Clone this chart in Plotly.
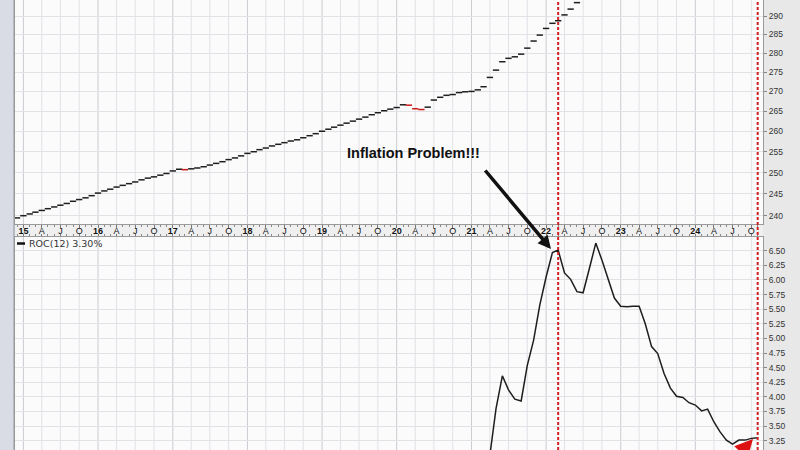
import math
import pandas as pd
import plotly.graph_objects as go

# ---------------- data ----------------
cpi_start = "2014-12-01"
cpi_values = [
    239.5,
    240.0, 240.4, 240.8, 241.2, 241.6, 242.0, 242.4, 242.8, 243.3, 243.7, 244.1, 244.6,  # 2015
    245.2, 245.7, 246.1, 246.6, 247.0, 247.4, 247.8, 248.3, 248.7, 249.0, 249.4, 249.8,  # 2016
    250.4, 250.8, 250.7, 250.9, 251.1, 251.4, 251.8, 252.2, 252.6, 253.1, 253.5, 254.0,  # 2017
    254.6, 255.0, 255.5, 255.9, 256.4, 256.8, 257.2, 257.6, 257.9, 258.4, 258.9, 259.4,  # 2018
    260.0, 260.5, 261.0, 261.5, 262.0, 262.5, 263.0, 263.5, 264.1, 264.6, 265.1, 265.5,  # 2019
    265.9, 266.6, 266.5, 265.6, 265.4, 266.0, 267.8, 268.5, 269.0, 269.2, 269.7, 269.9,  # 2020
    270.0, 270.4, 271.2, 273.6, 275.5, 277.7, 278.6, 279.0, 279.7, 281.3, 283.2, 284.8,  # 2021
    286.6, 288.0, 288.7, 290.3, 291.9, 293.7,                                            # 2022
]

roc_start = "2021-04-01"
roc_values = [
    3.00, 3.80, 4.36, 4.12, 3.96, 3.93, 4.54, 4.97, 5.57, 6.05, 6.47, 6.51,   # Apr21-Mar22
    6.12, 6.01, 5.80, 5.78, 6.20, 6.63, 6.34, 6.00, 5.69,                     # Apr22-Dec22
    5.55, 5.54, 5.55, 5.55, 5.25, 4.86, 4.74, 4.40, 4.15, 4.01, 3.99, 3.90,   # 2023
    3.86, 3.76, 3.79, 3.57, 3.40, 3.26, 3.19, 3.26, 3.26, 3.29, 3.30,         # 2024
]

quarter_ticks = pd.date_range("2015-01-01", "2024-10-01", freq="QS-JAN")
quarter_letters = {4: "A", 7: "J", 10: "O"}
cpi_ticks = [240, 245, 250, 255, 260, 265, 270, 275, 280, 285, 290, 295]
roc_ticks = [3.25, 3.50, 3.75, 4.00, 4.25, 4.50, 4.75, 5.00, 5.25, 5.50, 5.75, 6.00, 6.25, 6.50]
highlight_dates = ["2022-03-01", "2024-11-01"]
roc_label = "ROC(12) 3.30%"
note_text = "Inflation Problem!!!"

# ---------------- figure ----------------
W, H = 800, 450
L, R = 15, 37
PW = W - L - R


def px_x(p):
    return (p - L) / PW


def px_y(p):
    return 1 - p / H


dates_cpi = pd.date_range(cpi_start, periods=len(cpi_values), freq="MS")
dates_roc = pd.date_range(roc_start, periods=len(roc_values), freq="MS")
bar_colors = ["#cc1a1a" if i > 0 and v < cpi_values[i - 1] else "#1e1e1e"
              for i, v in enumerate(cpi_values)]

tick_text = []
for d in quarter_ticks:
    if d.month == 1:
        tick_text.append("<b>%02d</b>" % (d.year % 100))
    else:
        tick_text.append(quarter_letters[d.month])

fig = go.Figure()
fig.add_trace(go.Scatter(
    x=dates_cpi, y=cpi_values, mode="markers", xaxis="x", yaxis="y",
    marker=dict(symbol="line-ew", size=4.5, color=bar_colors,
                line=dict(width=1.5, color=bar_colors)),
    hoverinfo="skip"))
fig.add_trace(go.Scatter(
    x=dates_roc, y=roc_values, mode="lines", xaxis="x2", yaxis="y2",
    line=dict(color="#1e1e1e", width=1.5), hoverinfo="skip"))

grid_c = "#e2e2e6"
year_c = "#cbcbd0"
axis_line = "#9a9a9a"
tick_font = dict(family="Liberation Sans, Arial, sans-serif", size=8.5, color="#333333")

top_dom = [px_y(224), 1]
bot_dom = [0, px_y(236.5)]

xr = ["2014-11-21", "2024-11-27"]
common_x = dict(
    tickmode="array", tickvals=quarter_ticks, showgrid=False,
    showline=True, linecolor=axis_line, mirror=True, zeroline=False, automargin=False,
)
fig.update_layout(
    width=W, height=H,
    margin=dict(l=L, r=R, t=0, b=0, pad=0),
    paper_bgcolor="#e8e8e8", plot_bgcolor="#fbfbfc",
    showlegend=False,
    xaxis=dict(domain=[0, 1], anchor="y", range=xr, ticktext=tick_text,
               ticks="outside", ticklen=3, tickcolor="#777", ticklabelstandoff=-5,
               tickfont=dict(family="Liberation Sans, Arial, sans-serif", size=9, color="#111"),
               minor=dict(dtick="M1", tick0="2015-01-01", ticks="outside", ticklen=2,
                          tickcolor="#888", showgrid=False),
               **common_x),
    xaxis2=dict(domain=[0, 1], anchor="y2", matches="x", side="top",
                showticklabels=False, ticks="outside", ticklen=2, tickcolor="#777",
                minor=dict(dtick="M1", tick0="2015-01-01", ticks="outside", ticklen=2,
                           tickcolor="#888", showgrid=False),
                **common_x),
    yaxis=dict(domain=top_dom, anchor="x", side="right", type="log",
               range=[math.log10(238.12), math.log10(294.43)],
               tickmode="array", tickvals=cpi_ticks, ticks="outside", ticklen=3,
               tickcolor="#888", tickfont=tick_font, showgrid=True, gridcolor=grid_c,
               showline=True, linecolor=axis_line, mirror=True, zeroline=False,
               automargin=False),
    yaxis2=dict(domain=bot_dom, anchor="x2", side="right",
                range=[3.091, 6.743], tickmode="array", tickvals=roc_ticks,
                tickformat=".2f", ticks="outside", ticklen=3, tickcolor="#888",
                tickfont=tick_font, showgrid=True, gridcolor=grid_c,
                showline=True, linecolor=axis_line, mirror=True, zeroline=False,
                automargin=False),
)

shapes = []
# left frame strip
shapes.append(dict(type="rect", xref="paper", yref="paper", x0=px_x(0), x1=px_x(13),
                   y0=0, y1=1, fillcolor="#d9dce4", line=dict(width=0), layer="below"))
shapes.append(dict(type="rect", xref="paper", yref="paper", x0=px_x(13), x1=px_x(15),
                   y0=0, y1=1, fillcolor="#b4b8c2", line=dict(width=0), layer="below"))
# date band between panels
shapes.append(dict(type="rect", xref="paper", yref="paper", x0=0, x1=1,
                   y0=px_y(236.5), y1=px_y(224), fillcolor="#efefef",
                   line=dict(width=0), layer="below"))
# vertical grid lines (quarterly light, yearly darker)
for d in quarter_ticks:
    col = year_c if d.month == 1 else grid_c
    for xref, yref in (("x", "y domain"), ("x2", "y2 domain")):
        shapes.append(dict(type="line", xref=xref, yref=yref, x0=d, x1=d, y0=0, y1=1,
                           line=dict(color=col, width=1), layer="below"))
# red dashed markers
for d in highlight_dates:
    shapes.append(dict(type="line", xref="x", yref="paper", x0=d, x1=d, y0=0, y1=1,
                       line=dict(color="#d42020", width=2, dash="3px,2px"), layer="above"))
# ROC legend swatch
shapes.append(dict(type="line", xref="paper", yref="paper", x0=px_x(17), x1=px_x(25),
                   y0=px_y(243.5), y1=px_y(243.5), line=dict(color="#111", width=2.5),
                   layer="above"))
fig.update_layout(shapes=shapes)

annotations = [
    dict(xref="paper", yref="paper", x=px_x(27), y=px_y(243.5), xanchor="left",
         yanchor="middle", text=roc_label, showarrow=False,
         font=dict(family="DejaVu Sans, Verdana, sans-serif", size=9.5, color="#333")),
    dict(xref="paper", yref="paper", x=px_x(413), y=px_y(153), xanchor="center",
         yanchor="middle", text="<b>%s</b>" % note_text, showarrow=False,
         font=dict(family="Liberation Sans, Arial, sans-serif", size=14.5, color="#111")),
    dict(xref="paper", yref="paper", x=px_x(551), y=px_y(249), text="", showarrow=True,
         ax=-67, ay=-80, arrowcolor="#111", arrowwidth=3.5, arrowhead=2, arrowsize=0.75),
    dict(xref="paper", yref="paper", x=px_x(753), y=px_y(439), text="", showarrow=True,
         ax=-10, ay=14, arrowcolor="#dd1111", arrowwidth=3, arrowhead=2, arrowsize=1.2),
]
fig.update_layout(annotations=annotations)

fig.write_html("out.html", config={"displayModeBar": False},
               post_script="document.body.style.margin='0';")
